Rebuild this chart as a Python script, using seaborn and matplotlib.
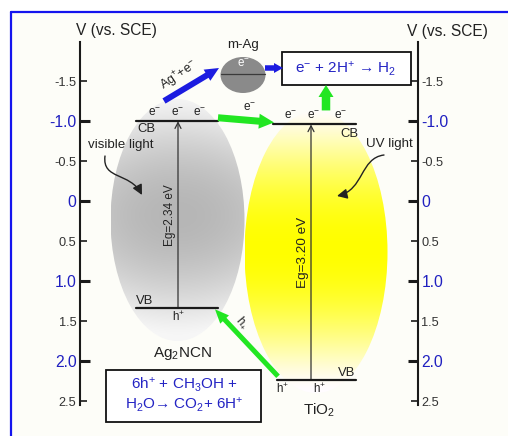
import numpy as np
import pandas as pd
import matplotlib
matplotlib.use("Agg")
import matplotlib.pyplot as plt
import seaborn as sns
from matplotlib.patches import Ellipse, Rectangle, FancyArrowPatch
from matplotlib.path import Path
from matplotlib.lines import Line2D
from matplotlib.ticker import FixedLocator, FixedFormatter

# ---- band-structure data (potential in V vs. SCE) ----
materials = ["Ag2NCN", "TiO2"]
material_labels = [r"Ag$_2$NCN", r"TiO$_2$"]
cb_edge = [-1.00, -0.96]
vb_edge = [1.34, 2.24]
gap_labels = ["Eg=2.34 eV", "Eg=3.20 eV"]

major_ticks = [-1.0, 0.0, 1.0, 2.0]
major_labels = ["-1.0", "0", "1.0", "2.0"]
minor_ticks = [-1.5, -0.5, 0.5, 1.5, 2.5]
minor_labels = ["-1.5", "-0.5", "0.5", "1.5", "2.5"]

# ---- style ----
sns.set_theme(style="white")
plt.rcParams["font.family"] = ["Liberation Sans", "DejaVu Sans"]
plt.rcParams["mathtext.fontset"] = "custom"
plt.rcParams["mathtext.rm"] = "Liberation Sans"
plt.rcParams["mathtext.it"] = "Liberation Sans:italic"
plt.rcParams["mathtext.bf"] = "Liberation Sans:bold"

INK = "#222222"
BLUE_TXT = "#2424c4"
GREEN = "#22e622"
BLUE = "#1c1ce0"

W, H = 508, 436
fig = plt.figure(figsize=(W / 100, H / 100), dpi=100)
fig.patch.set_facecolor("white")

# panel background and blue frame
fig.add_artist(Rectangle((11 / W, 0), 1 - 11 / W, 1 - 12 / H, transform=fig.transFigure,
                         facecolor="#fdfdf8", edgecolor="none", zorder=0))
fig.add_artist(Line2D([11 / W, 1], [1 - 12 / H] * 2, transform=fig.transFigure,
                      color="#1414ee", lw=1.6, zorder=1))
fig.add_artist(Line2D([11 / W] * 2, [0, 1 - 12 / H], transform=fig.transFigure,
                      color="#1414ee", lw=1.6, zorder=1))

# vertical scale: pixel row <-> potential
Y0, K = 201.2, 79.95


def V(py):
    return (py - Y0) / K


def dv(px):
    return px / K


ax = fig.add_axes([80 / W, 1 - 405 / H, 338 / W, 363 / H])
ax.set_facecolor("none")


def gradient_ellipse(cx, cy, w, h, colour_fn, z):
    ys = np.linspace(cy - h / 2, cy + h / 2, 300)
    xs = np.linspace(cx - w / 2, cx + w / 2, 160)
    X, Y = np.meshgrid(xs, ys)
    img = np.clip(colour_fn(X, Y), 0, 1)
    im = ax.imshow(img, extent=[cx - w / 2, cx + w / 2, V(cy + h / 2), V(cy - h / 2)],
                   origin="upper", aspect="auto", interpolation="bilinear", zorder=z)
    clip = Ellipse((cx, V(cy)), w, h / K, transform=ax.transData,
                   facecolor="none", edgecolor="none")
    ax.add_patch(clip)
    im.set_clip_path(clip)


def grey_fn(X, Y):
    t = (Y - 215) / 120
    s = (X - 177) / 67
    f = np.clip(1 - t ** 2, 0, 1) ** 1.3
    lvl = (246 - 64 * f + 12 * s ** 2) / 255
    return np.dstack([lvl, lvl, lvl])


def yellow_fn(X, Y):
    t = (Y - 248) / 142
    f = np.clip(1 - t ** 2, 0, 1) ** 1.5
    r = np.ones_like(X)
    g = np.ones_like(X) - 0.01 * (1 - f)
    b = 1 - f
    return np.dstack([r, g, b])


gradient_ellipse(177.5, 220, 134, 242, grey_fn, 1)
gradient_ellipse(316, 252, 143, 282, yellow_fn, 1)

# band edges drawn with seaborn
cb_x = [(136, 218), (273, 356)]
vb_x = [(136, 218), (277, 356)]
rows = []
for i, m in enumerate(materials):
    for xx in cb_x[i]:
        rows.append({"edge": f"{m}-CB", "x": xx, "V": cb_edge[i]})
    for xx in vb_x[i]:
        rows.append({"edge": f"{m}-VB", "x": xx, "V": vb_edge[i]})
bands = pd.DataFrame(rows)
sns.lineplot(data=bands, x="x", y="V", units="edge", estimator=None, sort=False,
             color="#1a1a1a", lw=1.6, legend=False, ax=ax, zorder=4)

# band-gap arrows and labels
gap_x = [178, 311]
gap_fs = [8.5, 9.7]
for i in range(2):
    ax.annotate("", xy=(gap_x[i], cb_edge[i]), xytext=(gap_x[i], vb_edge[i]),
                arrowprops=dict(arrowstyle="->,head_length=0.35,head_width=0.18",
                                lw=0.9, color="#333333", shrinkA=0, shrinkB=0), zorder=3)
    ax.text(gap_x[i] - 8, (cb_edge[i] + vb_edge[i]) / 2, gap_labels[i], rotation=90,
            ha="center", va="center", fontsize=gap_fs[i], color=INK, zorder=5)


def label(x, y, s, dy_px=0, **kw):
    kw.setdefault("fontsize", 9.4)
    kw.setdefault("color", INK)
    ax.annotate(s, xy=(x, y), xytext=(0, -dy_px * 0.72), textcoords="offset points",
                ha=kw.pop("ha", "center"), va=kw.pop("va", "center"), annotation_clip=False,
                zorder=kw.pop("zorder", 6), **kw)


# electrons, holes, CB / VB labels
for x in (155, 178, 200):
    label(x, cb_edge[0], r"e$^{-}$", dy_px=-8, fontsize=8.6)
for x in (291, 314, 341):
    label(x, cb_edge[1], r"e$^{-}$", dy_px=-8, fontsize=8.6)
label(146, cb_edge[0], "CB", dy_px=8)
label(349, cb_edge[1], "CB", dy_px=10)
label(145, vb_edge[0], "VB", dy_px=-7)
label(347, vb_edge[1], "VB", dy_px=-7)
label(179, vb_edge[0], r"h$^{+}$", dy_px=9, fontsize=8.4)
for x in (283, 320):
    label(x, vb_edge[1], r"h$^{+}$", dy_px=9, fontsize=8.4)

label(182, V(353), material_labels[0], fontsize=11)
label(319, V(410), material_labels[1], fontsize=11)

# light labels with curved arrows
label(121, V(145), "visible light", fontsize=9.6)
label(389, V(144), "UV light", fontsize=9.6)


def curved_arrow(pts):
    verts = [(x, V(y)) for x, y in pts]
    path = Path(verts, [Path.MOVETO, Path.CURVE4, Path.CURVE4, Path.CURVE4])
    ax.add_patch(FancyArrowPatch(path=path, arrowstyle="-|>,head_length=0.6,head_width=0.3",
                                 mutation_scale=10, lw=1.0, color=INK, zorder=6))


curved_arrow([(105, 156), (102, 180), (130, 172), (142, 195)])
curved_arrow([(384, 155), (360, 158), (364, 190), (337, 196)])


def fat_arrow(p0, p1, color, tail, head_w, head_l):
    c = 1 / (10 * 100 / 72)
    style = f"simple,tail_width={tail * c:.3f},head_width={head_w * c:.3f},head_length={head_l * c:.3f}"
    ax.add_patch(FancyArrowPatch(p0, p1, arrowstyle=style, mutation_scale=10, color=color,
                                 shrinkA=0, shrinkB=0, lw=0, zorder=7, clip_on=False))


# electron / hole transfer arrows
fat_arrow((218, cb_edge[0] - dv(3.5)), (274, cb_edge[1] - dv(2)), GREEN, 7, 15, 15)
label(250, V(109), r"e$^{-}$", fontsize=8.6)
fat_arrow((326, cb_edge[1] - dv(14)), (326, V(85)), GREEN, 8.5, 15, 12)
fat_arrow((278, vb_edge[1] - dv(4)), (215, vb_edge[0] + dv(1)), GREEN, 5, 12, 14)
label(242, V(323), r"h$_{+}$", fontsize=8.4, rotation=-50)

# metallic silver particle
ax.add_patch(Ellipse((243, V(75)), 45, 36 / K, facecolor="#8a8a8a", edgecolor="none", zorder=5))
ax.plot([221, 265], [V(74), V(74)], color="#3a3a3a", lw=0.9, zorder=6)
label(243, V(65), r"e$^{-}$", fontsize=8.4, color="white")
label(243, V(45), "m-Ag", fontsize=9.6)
fat_arrow((164, V(101)), (219, V(68)), BLUE, 6, 13, 14)
label(179, V(76), r"Ag$^{+}$+e$^{-}$", fontsize=9, rotation=34)
fat_arrow((265, V(68)), (283, V(68)), BLUE, 5.5, 10, 9)

# reaction boxes
ax.add_patch(Rectangle((282, V(85)), 129, -33 / K, facecolor="white", edgecolor="#111111",
                       lw=1.3, zorder=6, clip_on=False))
label(346, V(69), r"e$^{-}$ + 2H$^{+}$ → H$_2$", fontsize=11, color=BLUE_TXT, zorder=7)
ax.add_patch(Rectangle((106, V(422)), 155, -52 / K, facecolor="white", edgecolor="#111111",
                       lw=1.3, zorder=6, clip_on=False))
label(184, V(385), r"6h$^{+}$ + CH$_3$OH +", fontsize=11, color=BLUE_TXT, zorder=7)
label(184, V(405), r"H$_2$O→ CO$_2$+ 6H$^{+}$", fontsize=11, color=BLUE_TXT, zorder=7)

# potential axes (left and right spines)
ax.set_xlim(80, 418)
ax.set_ylim(V(405), V(42))
ax.set_xlabel("")
ax.set_ylabel("")
ax.set_xticks([])
for side in ("top", "bottom"):
    ax.spines[side].set_visible(False)
for side in ("left", "right"):
    ax.spines[side].set_visible(True)
    ax.spines[side].set_color("#1a1a1a")
    ax.spines[side].set_linewidth(1.5)
ax.yaxis.set_major_locator(FixedLocator(major_ticks))
ax.yaxis.set_major_formatter(FixedFormatter(major_labels))
ax.yaxis.set_minor_locator(FixedLocator(minor_ticks))
ax.yaxis.set_minor_formatter(FixedFormatter(minor_labels))
ax.tick_params(axis="y", which="both", direction="in", left=True, right=True,
               labelleft=True, labelright=True, pad=2.5, color="#1a1a1a")
ax.tick_params(axis="y", which="major", length=7.2, width=2.2, labelsize=11.3,
               labelcolor="#2020c0")
ax.tick_params(axis="y", which="minor", length=5, width=1.2, labelsize=9.2,
               labelcolor="#333333")

ax.text(116, V(30), "V (vs. SCE)", ha="center", va="center", fontsize=11.2, color=INK,
        clip_on=False)
ax.text(447, V(31), "V (vs. SCE)", ha="center", va="center", fontsize=11.2, color=INK,
        clip_on=False)

fig.savefig("out.png", dpi=100, facecolor=fig.get_facecolor())
